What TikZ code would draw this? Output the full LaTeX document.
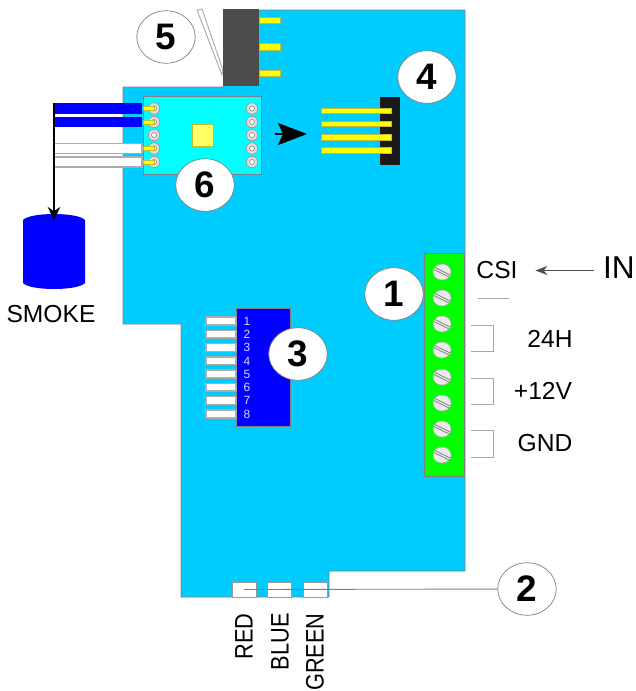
\documentclass[tikz,border=0pt]{standalone}
\usepackage{fontspec}
\setmainfont{Liberation Sans}
\usetikzlibrary{arrows.meta,shapes.geometric}
\definecolor{boardblue}{HTML}{00CCFF}
\definecolor{modulecyan}{HTML}{00FFFF}
\definecolor{wireblue}{HTML}{0000FF}
\definecolor{termgreen}{HTML}{00FF00}
\definecolor{edgegray}{HTML}{808080}
\definecolor{pinyellow}{HTML}{FFFF00}
\definecolor{pinedge}{HTML}{BDBD33}
\definecolor{padgray}{HTML}{DDDDDD}
\tikzset{
  callout/.style={ellipse,draw=edgegray,fill=white,inner sep=0pt,minimum width=1.17cm,
    minimum height=1.05cm,font=\fontsize{21}{23}\selectfont\bfseries},
  label/.style={inner sep=0pt,font=\fontsize{14}{16}\selectfont},
  pinnum/.style={inner sep=0pt,text=white!85!wireblue,font=\fontsize{6.8}{8}\selectfont},
  vlabel/.style={inner sep=0pt,rotate=90,anchor=east,xscale=.86,font=\fontsize{14.4}{16}\selectfont},
  yellowpin/.style={draw=pinedge,fill=pinyellow,line width=.3pt},
  whitepin/.style={draw=edgegray!65,fill=white,line width=.7pt},
  thingray/.style={draw=edgegray!70,line width=.5pt},
  pad/.style={circle,draw=edgegray!80,fill=padgray,inner sep=0pt,minimum size=.23cm,line width=.4pt,
    path picture={\draw[edgegray,fill=white,line width=.3pt] (path picture bounding box.center) circle (.05cm);}},
  screw/.style={ellipse,draw=edgegray!60,fill=padgray!60,inner sep=0pt,minimum width=.36cm,minimum height=.32cm,line width=.3pt,
    path picture={
      \draw[edgegray,line width=.4pt] ([shift={(-.2cm,.12cm)}]path picture bounding box.center) -- ([shift={(.2cm,-.08cm)}]path picture bounding box.center);
      \draw[edgegray,line width=.4pt] ([shift={(-.2cm,.07cm)}]path picture bounding box.center) -- ([shift={(.2cm,-.13cm)}]path picture bounding box.center);}},
  box/.style={draw=edgegray!80,fill=white,inner sep=0pt,minimum width=.48cm,minimum height=.3cm,line width=.5pt}
}
\begin{document}
\begin{tikzpicture}[x=0.02cm,y=-0.02cm]
  \useasboundingbox (0,0) rectangle (636,691);

  \draw[edgegray,fill=boardblue,line width=.5pt] (260,10) -- (465,10) -- (465,571) -- (329,571) -- (329,597) --
        (181,597) -- (181,324) -- (123,324) -- (123,87) -- (223,87) -- (260,10);

  \draw[thingray,fill=white] (197,10) -- (202,9) -- (223,70) -- (222,75) -- (197,10);
  \draw[yellowpin] (259,17) rectangle (280,23);
  \draw[yellowpin] (259,43) rectangle (280,50);
  \draw[yellowpin] (259,70) rectangle (280,76);
  \fill[black!70] (223,9) rectangle (259,86);

  \draw[edgegray,fill=modulecyan,line width=.5pt] (143,96) rectangle (261,174);
  \draw[pinedge,fill=pinyellow!60,line width=.5pt] (192,124) rectangle (213,146);
  \node[pad] (padA) at (154,108.5) {};
  \node[pad] (padB) at (154,122) {};
  \node[pad] (padC) at (154,135) {};
  \node[pad] (padD) at (154,148.5) {};
  \node[pad] (padE) at (154,162) {};
  \node[pad] (padF) at (252,108.5) {};
  \node[pad] (padG) at (252,122) {};
  \node[pad] (padH) at (252,135) {};
  \node[pad] (padI) at (252,148.5) {};
  \node[pad] (padJ) at (252,162) {};
  \draw[yellowpin] (143,106.5) rectangle (154,110.5);
  \draw[yellowpin] (143,120) rectangle (154,124);
  \draw[yellowpin] (143,146.5) rectangle (154,150.5);
  \draw[yellowpin] (143,160) rectangle (154,164);

  \fill[wireblue] (54,103) rectangle (142,114);
  \fill[wireblue] (54,116.5) rectangle (142,127);
  \draw[whitepin] (54,143.5) rectangle (142,153.5);
  \draw[whitepin] (54,157) rectangle (142,167);

  \fill[wireblue] (23,220) .. controls (30,212) and (78,212) .. (85,220) -- (85,283) ..
        controls (78,291) and (30,291) .. (23,283) -- cycle;
  \coordinate (wiretop) at (54,103);
  \coordinate (smoketop) at (54,220);
  \draw[-{Stealth[length=.26cm,width=.25cm]},line width=1.5pt] (wiretop) -- (smoketop);
  \node[label] (smoke) at (51,314) {SMOKE};

  \coordinate (fittail) at (275,134);
  \coordinate (fittip) at (307,134);
  \draw[-{Stealth[length=.58cm,width=.44cm,inset=.1cm]},line width=1.1pt] (fittail) -- (fittip);

  \fill[black!90] (380,97) rectangle (400,165);
  \draw[yellowpin] (321,108) rectangle (391,113.5);
  \draw[yellowpin] (321,121) rectangle (391,126.5);
  \draw[yellowpin] (321,134.5) rectangle (391,140);
  \draw[yellowpin] (321,147.5) rectangle (391,153);

  \draw[edgegray,fill=wireblue,line width=.5pt] (236,308) rectangle (290,426);
  \draw[whitepin] (206,317) rectangle (236,325);
  \draw[whitepin] (206,330.5) rectangle (236,338);
  \draw[whitepin] (206,343.5) rectangle (236,351.5);
  \draw[whitepin] (206,357) rectangle (236,364.5);
  \draw[whitepin] (206,370) rectangle (236,378);
  \draw[whitepin] (206,383.5) rectangle (236,391);
  \draw[whitepin] (206,396.5) rectangle (236,404.5);
  \draw[whitepin] (206,410) rectangle (236,418);
  \node[pinnum] (pinA) at (247,321) {1};
  \node[pinnum] (pinB) at (247,334) {2};
  \node[pinnum] (pinC) at (247,347.5) {3};
  \node[pinnum] (pinD) at (247,361) {4};
  \node[pinnum] (pinE) at (247,374) {5};
  \node[pinnum] (pinF) at (247,387.5) {6};
  \node[pinnum] (pinG) at (247,400.5) {7};
  \node[pinnum] (pinH) at (247,414) {8};

  \draw[edgegray,fill=termgreen,line width=.5pt] (424,253) rectangle (464,476);
  \node[screw] (screwA) at (442,272) {};
  \node[screw] (screwB) at (442,298) {};
  \node[screw] (screwC) at (442,324) {};
  \node[screw] (screwD) at (442,350) {};
  \node[screw] (screwE) at (442,377) {};
  \node[screw] (screwF) at (442,403) {};
  \node[screw] (screwG) at (442,429) {};
  \node[screw] (screwH) at (442,455) {};

  \node[label] (CSI) at (497,270.5) {CSI};
  \node[inner sep=0pt,font=\fontsize{18}{20}\selectfont] (IN) at (619,268) {IN};
  \draw[-{Stealth[length=.24cm,width=.18cm]},edgegray!60!black,line width=.5pt,
        shorten <=14pt,shorten >=10pt] (IN |- CSI) -- (CSI);
  \draw[thingray] (478,298) -- (509,298);
  \draw[thingray] (471,325) -- (493,325) -- (493,351) -- (471,351);
  \draw[thingray] (471,378) -- (493,378) -- (493,404) -- (471,404);
  \draw[thingray] (471,430) -- (493,430) -- (493,457) -- (471,457);
  \node[label] (hvolt) at (550,339) {24H};
  \node[label] (lvolt) at (543,391) {+12V};
  \node[label] (gnd) at (545,443) {GND};

  \node[box] (redbox) at (244,589.5) {};
  \node[box] (bluebox) at (279,589.5) {};
  \node[box] (greenbox) at (315,589.5) {};
  \node[vlabel] (red) at (244,613) {RED};
  \node[vlabel] (blue) at (280,613) {BLUE};
  \node[vlabel] (green) at (315,613) {GREEN};

  \node[callout] (noteA) at (394,294) {1};
  \node[callout] (noteB) at (527,589) {2};
  \node[callout] (noteC) at (298,354) {3};
  \node[callout] (noteD) at (427,77) {4};
  \node[callout] (noteE) at (166,37) {5};
  \node[callout] (noteF) at (205,185) {6};
  \draw[edgegray,line width=.5pt] (redbox.center) -- (noteB);
\end{tikzpicture}
\end{document}
